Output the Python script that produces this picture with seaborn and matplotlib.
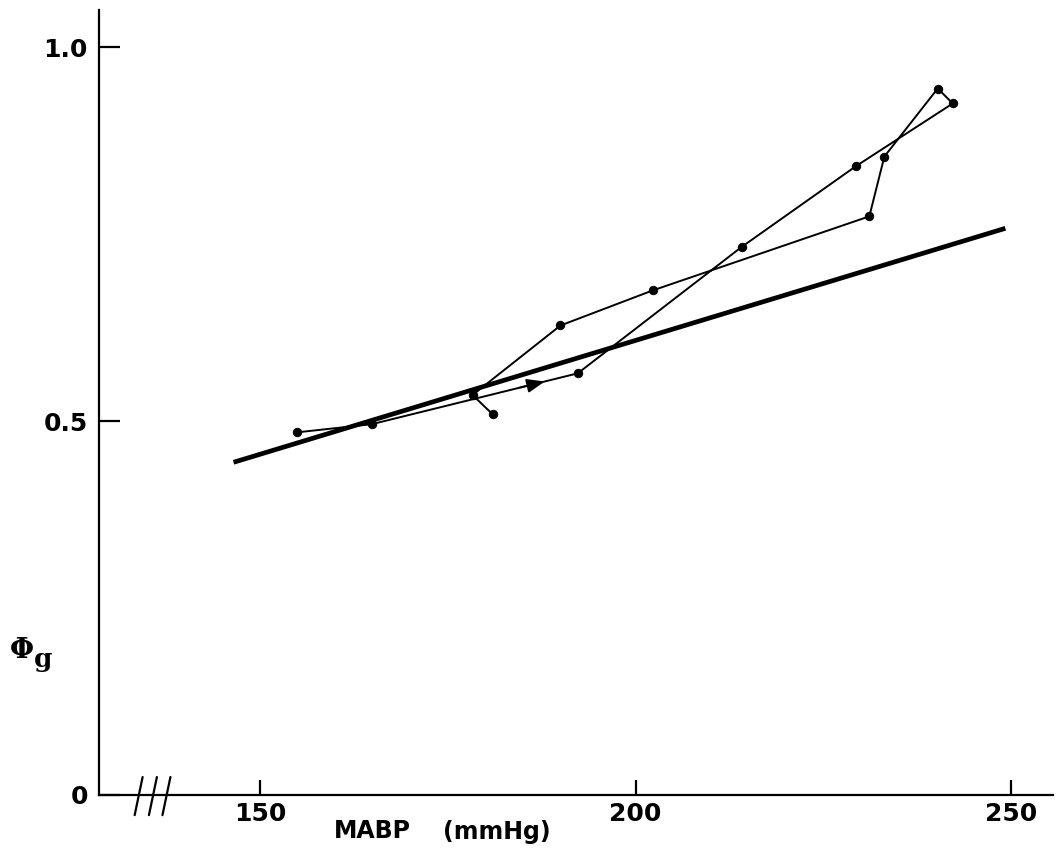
import matplotlib
matplotlib.use("Agg")
import matplotlib.pyplot as plt
import seaborn as sns
import pandas as pd
import numpy as np

# Glomerular fraction vs mean arterial blood pressure: rising then falling pressure loop
mabp = [154.9, 164.9, 192.3, 214.1, 229.3, 242.2, 240.2, 233.1, 231.1, 202.3, 190.0, 178.3, 181.0]
phi_g = [0.485, 0.496, 0.564, 0.733, 0.841, 0.925, 0.945, 0.854, 0.774, 0.675, 0.628, 0.535, 0.509]

# Fitted straight line
fit_mabp = [146.5, 249.2]
fit_phi = [0.445, 0.758]

x_ticks = [150, 200, 250]
y_ticks = [0, 0.5, 1.0]
y_tick_labels = ["0", "0.5", "1.0"]

sns.set_theme(style="white")
plt.rcParams["font.family"] = ["DejaVu Sans"]

fig = plt.figure(figsize=(10.58, 8.56), dpi=100)
ax = fig.add_axes([0.0936, 0.0713, 0.9014, 0.917])

loop = pd.DataFrame({"MABP": mabp, "phi": phi_g})
fit = pd.DataFrame({"MABP": fit_mabp, "phi": fit_phi})

sns.lineplot(data=fit, x="MABP", y="phi", ax=ax, color="black", lw=3.4,
             solid_capstyle="butt", sort=False)
sns.lineplot(data=loop, x="MABP", y="phi", ax=ax, color="black", lw=1.4,
             sort=False, marker="o", markersize=6, markeredgecolor="black",
             markerfacecolor="black", estimator=None)

# direction arrow on the rising branch
p0 = np.array([mabp[1], phi_g[1]])
p1 = np.array([mabp[2], phi_g[2]])
head = p0 + 0.84 * (p1 - p0)
tail = p0 + 0.72 * (p1 - p0)
ax.annotate("", xy=head, xytext=tail,
            arrowprops=dict(arrowstyle="-|>,head_length=0.9,head_width=0.35",
                            color="black", lw=1.4, shrinkA=0, shrinkB=0))

ax.set_xlim(128.6, 255.5)
ax.set_ylim(0, 1.05)

for side in ("top", "right"):
    ax.spines[side].set_visible(False)
for side in ("left", "bottom"):
    ax.spines[side].set_color("black")
    ax.spines[side].set_linewidth(1.6)

ax.set_xticks(x_ticks)
ax.set_xticklabels([str(t) for t in x_ticks])
ax.set_yticks(y_ticks)
ax.set_yticklabels(y_tick_labels)
ax.tick_params(axis="x", bottom=True, direction="in", length=11, width=1.6,
               color="black", labelsize=18, pad=5)
ax.tick_params(axis="y", left=True, direction="in", length=15, width=1.6,
               color="black", labelsize=18, pad=8)
for lab in ax.get_xticklabels() + ax.get_yticklabels():
    lab.set_fontweight("bold")
    lab.set_color("black")

ax.set_xlabel("")
ax.set_ylabel("")
fig.text(372 / 1058, 1 - 831 / 856, "MABP", fontsize=17, fontweight="heavy",
         ha="center", va="center", color="black")
fig.text(497 / 1058, 1 - 832 / 856, "(mmHg)", fontsize=17, fontweight="heavy",
         ha="center", va="center", color="black")
fig.text(22 / 1058, 1 - 651 / 856, "Φ", fontsize=20, fontweight="bold",
         family="DejaVu Serif", ha="center", va="center", color="black")
fig.text(43 / 1058, 1 - 660 / 856, "g", fontsize=19, fontweight="bold",
         family="DejaVu Serif", ha="center", va="center", color="black")

# axis break marks
for bx in (134.4, 136.3, 138.1):
    ax.plot([bx, bx - 1.06], [0.024, -0.027], color="black", lw=1.6, clip_on=False)

fig.savefig("out.png", dpi=100, facecolor="white")
